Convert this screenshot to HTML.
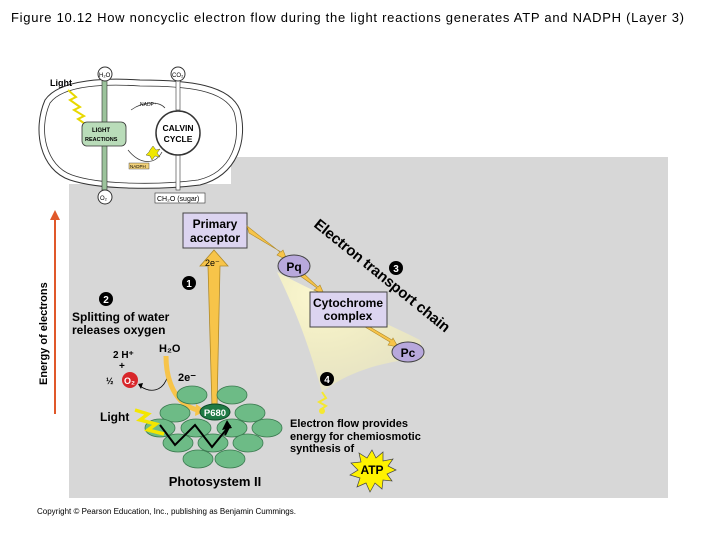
<!DOCTYPE html>
<html><head><meta charset="utf-8"><style>
html,body{margin:0;padding:0;background:#fff;}
svg{display:block;font-family:"Liberation Sans",Arial,sans-serif;}
</style></head><body>
<svg width="720" height="540" viewBox="0 0 720 540" xmlns="http://www.w3.org/2000/svg">
<defs>
<radialGradient id="glow" cx="0.3" cy="0.2" r="0.9">
<stop offset="0" stop-color="#fffbd0" stop-opacity="0.9"/>
<stop offset="1" stop-color="#fff6a0" stop-opacity="0.3"/>
</radialGradient>
</defs>
<text x="11" y="22" font-size="13" textLength="673" lengthAdjust="spacing" fill="#000">Figure 10.12  How noncyclic electron flow during the light reactions generates ATP and NADPH (Layer 3)</text>

<!-- gray panel -->
<rect x="69" y="184" width="599" height="314" fill="#d7d7d7"/>
<rect x="231" y="157" width="437" height="30" fill="#d7d7d7"/>

<!-- chloroplast -->
<path d="M45,100 C60,78 110,78 140,80 C190,80 230,85 240,110 C248,140 238,175 200,185 C160,190 100,190 70,180 C40,170 32,130 45,100 Z" fill="#fff" stroke="#333" stroke-width="1"/>
<path d="M50,103 C64,84 110,84 140,86 C188,86 224,90 234,112 C242,140 232,172 198,180 C160,185 100,185 72,175 C46,166 38,130 50,103 Z" fill="none" stroke="#333" stroke-width="0.8"/>
<text x="50" y="86" font-size="9" font-weight="bold">Light</text>
<polyline points="68,90 76,97 70,100 80,107 74,110 84,116 78,119 88,126" fill="none" stroke="#e8d800" stroke-width="2"/>
<rect x="102" y="80" width="5" height="110" fill="#9cc39c" stroke="#333" stroke-width="0.6"/>
<circle cx="105" cy="74" r="7" fill="#fff" stroke="#333"/><text x="99" y="77" font-size="6">H₂O</text>
<circle cx="105" cy="197" r="7" fill="#fff" stroke="#333"/><text x="100" y="200" font-size="6">O₂</text>
<rect x="82" y="122" width="44" height="24" rx="5" fill="#b9dcb9" stroke="#333" stroke-width="0.8"/>
<text x="92" y="132" font-size="6" font-weight="bold">LIGHT</text><text x="85" y="141" font-size="5.5" font-weight="bold">REACTIONS</text>
<rect x="176" y="80" width="4" height="30" fill="#fff" stroke="#333" stroke-width="0.6"/>
<rect x="176" y="155" width="4" height="35" fill="#fff" stroke="#333" stroke-width="0.6"/>
<circle cx="178" cy="133" r="22" fill="#fff" stroke="#333" stroke-width="1.5"/>
<text x="178" y="131" font-size="8.5" font-weight="bold" text-anchor="middle">CALVIN</text><text x="178" y="142" font-size="8.5" font-weight="bold" text-anchor="middle">CYCLE</text>
<path d="M131,110 C145,100 160,102 165,108" fill="none" stroke="#333" stroke-width="0.7"/>
<text x="140" y="106" font-size="5">NADP⁺</text>
<path d="M128,150 C140,165 155,165 162,152" fill="none" stroke="#333" stroke-width="0.7"/>
<polygon points="150,150 153,146 156,150 160,149 157,153 160,157 155,156 152,160 150,156 146,155 149,152" fill="#f0e800" stroke="#333" stroke-width="0.4"/>
<rect x="129" y="163" width="20" height="6" fill="#f3d27a" stroke="#333" stroke-width="0.4"/>
<text x="130" y="168" font-size="4.5">NADPH</text>
<circle cx="178" cy="74" r="7" fill="#fff" stroke="#333"/><text x="172" y="77" font-size="6">CO₂</text>
<rect x="155" y="193" width="50" height="10" fill="#fff" stroke="#333" stroke-width="0.6"/>
<text x="157" y="201" font-size="7">CH₂O (sugar)</text>

<!-- energy axis -->
<line x1="55" y1="414" x2="55" y2="218" stroke="#e0582a" stroke-width="2"/>
<polygon points="50,220 55,210 60,220" fill="#e0582a"/>
<text transform="translate(47,385) rotate(-90)" font-size="11" font-weight="bold">Energy of electrons</text>

<!-- glow fan -->
<path d="M277,272 C300,320 310,350 322,392 C350,370 390,360 425,358 L420,340 C380,320 330,300 277,272 Z" fill="url(#glow)"/>

<!-- big yellow arrow -->
<polygon points="212,408 217,408 220,266 228,266 214,250 200,266 208,266" fill="#f7c449" stroke="#b08a2a" stroke-width="0.8"/>
<text x="205" y="266" font-size="9">2e⁻</text>

<!-- primary acceptor -->
<rect x="183" y="213" width="64" height="35" fill="#dcd4f0" stroke="#444" stroke-width="1"/>
<text x="215" y="228" font-size="12" font-weight="bold" text-anchor="middle">Primary</text>
<text x="215" y="242" font-size="12" font-weight="bold" text-anchor="middle">acceptor</text>

<!-- chain arrows -->
<polygon points="247,226 280,252 277,255 287,260 283,250 281,252 249,233" fill="#f7c449" stroke="#b08a2a" stroke-width="0.6"/>
<polygon points="296,273 317,288 314,290 324,294 320,285 318,287 300,270" fill="#f7c449" stroke="#b08a2a" stroke-width="0.6"/>
<polygon points="365,327 390,342 388,345 398,347 393,338 392,340 370,327" fill="#f7c449" stroke="#b08a2a" stroke-width="0.6"/>

<ellipse cx="294" cy="266" rx="16" ry="11" fill="#b8a8dc" stroke="#444" stroke-width="1"/>
<text x="294" y="271" font-size="12" font-weight="bold" text-anchor="middle">Pq</text>
<rect x="310" y="292" width="77" height="35" fill="#dcd4f0" stroke="#444" stroke-width="1"/>
<text x="348" y="307" font-size="12" font-weight="bold" text-anchor="middle">Cytochrome</text>
<text x="348" y="320" font-size="12" font-weight="bold" text-anchor="middle">complex</text>
<ellipse cx="408" cy="352" rx="16" ry="10" fill="#b8a8dc" stroke="#444" stroke-width="1"/>
<text x="408" y="357" font-size="12" font-weight="bold" text-anchor="middle">Pc</text>

<text transform="translate(313,226) rotate(39)" font-size="15" font-weight="bold" textLength="170" lengthAdjust="spacing">Electron transport chain</text>

<!-- numbered circles -->
<g font-size="10" font-weight="bold" fill="#fff" text-anchor="middle">
<circle cx="189" cy="283" r="7" fill="#000"/><text x="189" y="287">1</text>
<circle cx="106" cy="299" r="7" fill="#000"/><text x="106" y="303">2</text>
<circle cx="396" cy="268" r="7" fill="#000"/><text x="396" y="272">3</text>
<circle cx="327" cy="379" r="7" fill="#000"/><text x="327" y="383">4</text>
</g>

<text x="72" y="321" font-size="12" font-weight="bold">Splitting of water</text>
<text x="72" y="334" font-size="12" font-weight="bold">releases oxygen</text>
<text x="113" y="358" font-size="10" font-weight="bold">2 H⁺</text>
<text x="119" y="369" font-size="10" font-weight="bold">+</text>
<text x="106" y="384" font-size="9" font-weight="bold">½</text>
<circle cx="130" cy="380" r="8" fill="#d8262a"/>
<text x="124" y="384" font-size="9" font-weight="bold" fill="#fff">O₂</text>
<text x="159" y="352" font-size="11" font-weight="bold">H₂O</text>
<text x="178" y="381" font-size="11" font-weight="bold">2e⁻</text>
<path d="M167,378 C162,392 150,393 140,386" fill="none" stroke="#000" stroke-width="0.8"/>
<polygon points="138,384 143,383 141,389" fill="#000"/>
<path d="M166,356 C166,380 175,405 198,410" fill="none" stroke="#f7c449" stroke-width="5"/>
<polygon points="196,404 206,411 195,416" fill="#f7c449"/>

<!-- photosystem -->
<g fill="#6dbb86" stroke="#3b7a50" stroke-width="0.8">
<ellipse cx="192" cy="395" rx="15" ry="9"/><ellipse cx="232" cy="395" rx="15" ry="9"/>
<ellipse cx="175" cy="413" rx="15" ry="9"/><ellipse cx="250" cy="413" rx="15" ry="9"/>
<ellipse cx="160" cy="428" rx="15" ry="9"/><ellipse cx="196" cy="428" rx="15" ry="9"/><ellipse cx="232" cy="428" rx="15" ry="9"/><ellipse cx="267" cy="428" rx="15" ry="9"/>
<ellipse cx="178" cy="443" rx="15" ry="9"/><ellipse cx="213" cy="443" rx="15" ry="9"/><ellipse cx="248" cy="443" rx="15" ry="9"/>
<ellipse cx="198" cy="459" rx="15" ry="9"/><ellipse cx="230" cy="459" rx="15" ry="9"/>
</g>
<ellipse cx="215" cy="412" rx="15" ry="8" fill="#1f7a45" stroke="#0d4a27"/>
<text x="215" y="416" font-size="9.5" font-weight="bold" fill="#fff" text-anchor="middle">P680</text>
<polyline points="160,425 175,445 195,425 212,447 230,425" fill="none" stroke="#000" stroke-width="2"/>
<polyline points="230,425 225,435" fill="none" stroke="#000" stroke-width="2"/>
<polygon points="222,430 227,420 232,428" fill="#000"/>
<text x="100" y="421" font-size="12" font-weight="bold">Light</text>
<polyline points="135,410 148,414 140,420 156,424 148,430 164,434" fill="none" stroke="#f3e600" stroke-width="3.5"/>
<text x="215" y="486" font-size="13" font-weight="bold" text-anchor="middle">Photosystem II</text>

<polyline points="322,392 326,398 319,402 326,406 320,410" fill="none" stroke="#f5e830" stroke-width="2"/>
<circle cx="322" cy="411" r="3" fill="#f5e830"/>
<text x="290" y="427" font-size="11" font-weight="bold">Electron flow provides</text>
<text x="290" y="440" font-size="11" font-weight="bold">energy for chemiosmotic</text>
<text x="290" y="452" font-size="11" font-weight="bold">synthesis of</text>
<polygon points="372,450 376,458 383,452 383,461 393,459 388,466 396,470 387,474 392,481 383,480 382,489 375,483 370,492 366,483 357,487 360,478 350,475 358,470 351,463 361,462 359,453 367,458" fill="#fff200" stroke="#444" stroke-width="0.7"/>
<text x="372" y="474" font-size="12" font-weight="bold" text-anchor="middle">ATP</text>

<text x="37" y="514" font-size="8">Copyright © Pearson Education, Inc., publishing as Benjamin Cummings.</text>
</svg>
</body></html>
